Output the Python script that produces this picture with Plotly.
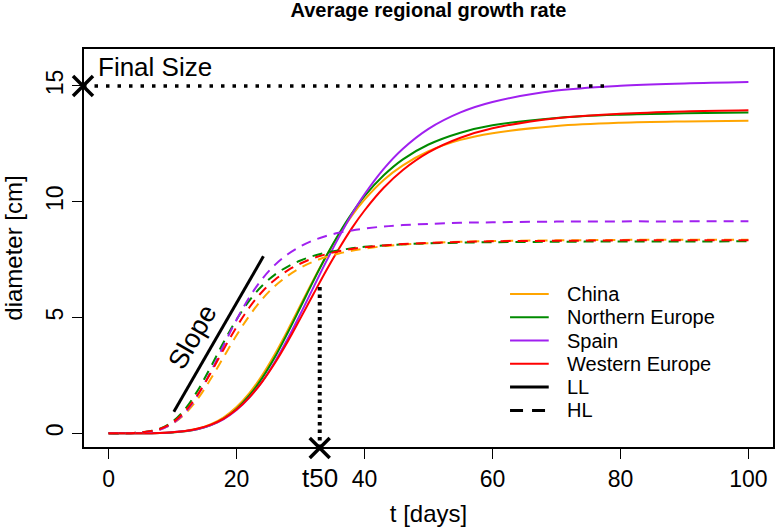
import plotly.graph_objects as go

# ---- data ----
t_days = [0, 4, 8, 10, 12, 14, 16, 18, 20, 22, 24, 26, 28, 30, 32, 34, 36, 38,
          40, 43, 46, 50, 55, 60, 70, 80, 90, 100]

china_ll = [0.0, 0.0, 0.01, 0.04, 0.10, 0.20, 0.39, 0.69, 1.13, 1.73, 2.50, 3.42, 4.45, 5.54,
            6.62, 7.64, 8.57, 9.39, 10.09, 10.94, 11.57, 12.18, 12.67, 12.96, 13.27, 13.41, 13.47, 13.50]
neur_ll = [0.0, 0.0, 0.01, 0.03, 0.08, 0.18, 0.35, 0.63, 1.05, 1.63, 2.38, 3.29, 4.34, 5.45,
           6.57, 7.64, 8.62, 9.49, 10.24, 11.14, 11.83, 12.47, 12.98, 13.30, 13.62, 13.76, 13.82, 13.85]
spain_ll = [0.0, 0.0, 0.01, 0.04, 0.09, 0.18, 0.35, 0.61, 1.00, 1.54, 2.23, 3.09, 4.08, 5.16,
            6.29, 7.41, 8.47, 9.45, 10.32, 11.42, 12.29, 13.15, 13.86, 14.31, 14.80, 15.01, 15.11, 15.17]
weur_ll = [0.0, 0.0, 0.01, 0.04, 0.09, 0.20, 0.37, 0.63, 1.02, 1.55, 2.22, 3.03, 3.96, 4.97,
           6.00, 7.02, 7.97, 8.85, 9.62, 10.60, 11.37, 12.13, 12.76, 13.17, 13.61, 13.80, 13.90, 13.95]

china_hl = [0.0, 0.01, 0.16, 0.41, 0.85, 1.51, 2.36, 3.30, 4.23, 5.07, 5.79, 6.36, 6.80, 7.15,
            7.41, 7.61, 7.76, 7.88, 7.97, 8.08, 8.15, 8.21, 8.27, 8.30, 8.33, 8.35, 8.36, 8.36]
neur_hl = [0.0, 0.01, 0.19, 0.50, 1.06, 1.88, 2.88, 3.94, 4.91, 5.73, 6.37, 6.85, 7.20, 7.46,
           7.66, 7.80, 7.90, 7.99, 8.05, 8.11, 8.16, 8.20, 8.23, 8.25, 8.27, 8.28, 8.28, 8.29]
spain_hl = [0.0, 0.01, 0.15, 0.42, 0.91, 1.67, 2.67, 3.80, 4.90, 5.87, 6.66, 7.27, 7.73, 8.07,
            8.33, 8.52, 8.66, 8.76, 8.84, 8.93, 8.99, 9.04, 9.09, 9.11, 9.14, 9.15, 9.15, 9.16]
weur_hl = [0.0, 0.01, 0.18, 0.46, 0.96, 1.70, 2.62, 3.63, 4.59, 5.43, 6.11, 6.63, 7.03, 7.33,
           7.56, 7.73, 7.86, 7.96, 8.03, 8.11, 8.17, 8.22, 8.26, 8.29, 8.31, 8.33, 8.33, 8.33]

regions = ["China", "Northern Europe", "Spain", "Western Europe"]
region_colors = ["#FFA500", "#008B00", "#A020F0", "#FF0000"]
ll_series = [china_ll, neur_ll, spain_ll, weur_ll]
hl_series = [china_hl, neur_hl, spain_hl, weur_hl]

x_ticks = [0, 20, 40, 60, 80, 100]
y_ticks = [0, 5, 10, 15]
x_range = [-4, 104]
y_range = [-0.64, 16.64]

# annotation values
final_size = 15
final_line_end = 78
t50 = 33
t50_top = 6.47
slope_t = [10.2, 24.2]
slope_y = [0.93, 7.64]

FONT = "Liberation Sans, Arial, Helvetica, sans-serif"

fig = go.Figure()

for name, col, ys in zip(regions, region_colors, ll_series):
    fig.add_trace(go.Scatter(x=t_days, y=ys, mode="lines", name=name,
                             line=dict(color=col, width=2, shape="spline")))
for name, col, ys in zip(regions, region_colors, hl_series):
    fig.add_trace(go.Scatter(x=t_days, y=ys, mode="lines", name=name + " HL",
                             line=dict(color=col, width=2, dash="10px,7px", shape="spline")))

# final size dotted line
fig.add_trace(go.Scatter(x=[x_range[0], final_line_end], y=[final_size, final_size], mode="lines",
                         line=dict(color="black", width=3.5, dash="3.5px,8px"), cliponaxis=False))
# t50 dotted line
fig.add_trace(go.Scatter(x=[t50, t50], y=[y_range[0], t50_top], mode="lines",
                         line=dict(color="black", width=4, dash="3.5px,4px"), cliponaxis=False))
# slope line
fig.add_trace(go.Scatter(x=slope_t, y=slope_y, mode="lines",
                         line=dict(color="black", width=3)))
# X markers
fig.add_trace(go.Scatter(x=[x_range[0], t50], y=[final_size, y_range[0]], mode="markers",
                         marker=dict(symbol="x-thin", size=20, line=dict(color="black", width=3.5)),
                         cliponaxis=False))

shapes = [dict(type="rect", xref="paper", yref="paper", x0=0, x1=1, y0=0, y1=1,
               line=dict(color="black", width=2), layer="above")]
annotations = []

# legend drawn in the lower-right corner of the panel
leg_entries = [(r, c, "solid", 2) for r, c in zip(regions, region_colors)]
leg_entries += [("LL", "black", "solid", 3), ("HL", "black", "13px,9px", 3)]
leg_y0 = 0.385
leg_dy = 0.0582
for i, (lab, col, dash, w) in enumerate(leg_entries):
    yy = leg_y0 - i * leg_dy
    shapes.append(dict(type="line", xref="paper", yref="paper", x0=0.618, x1=0.674, y0=yy, y1=yy,
                       line=dict(color=col, width=w, dash=dash)))
    annotations.append(dict(xref="paper", yref="paper", x=0.698, y=yy, text=lab, showarrow=False,
                            xanchor="left", yanchor="middle", font=dict(size=20, color="black")))

annotations.append(dict(x=-1.9, y=15.8, xref="x", yref="y", text="Final Size", showarrow=False,
                        xanchor="left", yanchor="middle", font=dict(size=26, color="black")))
annotations.append(dict(x=t50, y=-0.075, xref="x", yref="paper", text="t50", showarrow=False,
                        xanchor="center", yanchor="middle", font=dict(size=26, color="black")))
annotations.append(dict(x=13.1, y=4.16, xref="x", yref="y", text="Slope", showarrow=False,
                        textangle=-60, xanchor="center", yanchor="middle",
                        font=dict(size=27, color="black")))

fig.update_layout(
    width=776, height=528,
    margin=dict(l=83, r=2, t=48, b=80),
    paper_bgcolor="white", plot_bgcolor="white",
    showlegend=False,
    font=dict(family=FONT, color="black"),
    title=dict(text="<b>Average regional growth rate</b>", x=(83 + 774) / 2 / 776, xanchor="center",
               y=1 - 10 / 528, yanchor="middle", yref="container", font=dict(size=20)),
    shapes=shapes, annotations=annotations,
)
fig.update_xaxes(range=x_range, tickvals=x_ticks, ticks="outside", ticklen=10, tickwidth=1,
                 tickcolor="black", showgrid=False, zeroline=False, showline=False,
                 tickfont=dict(size=23), title=dict(text="t [days]", font=dict(size=24), standoff=14))
fig.update_yaxes(range=y_range, tickvals=y_ticks, ticks="outside", ticklen=10, tickwidth=1,
                 tickcolor="black", showgrid=False, zeroline=False, showline=False, tickangle=-90,
                 tickfont=dict(size=23), title=dict(text="diameter [cm]", font=dict(size=24), standoff=13))

fig.write_html("out.html", config={"displayModeBar": False},
               post_script="document.body.style.margin='0';document.body.style.padding='0';")
